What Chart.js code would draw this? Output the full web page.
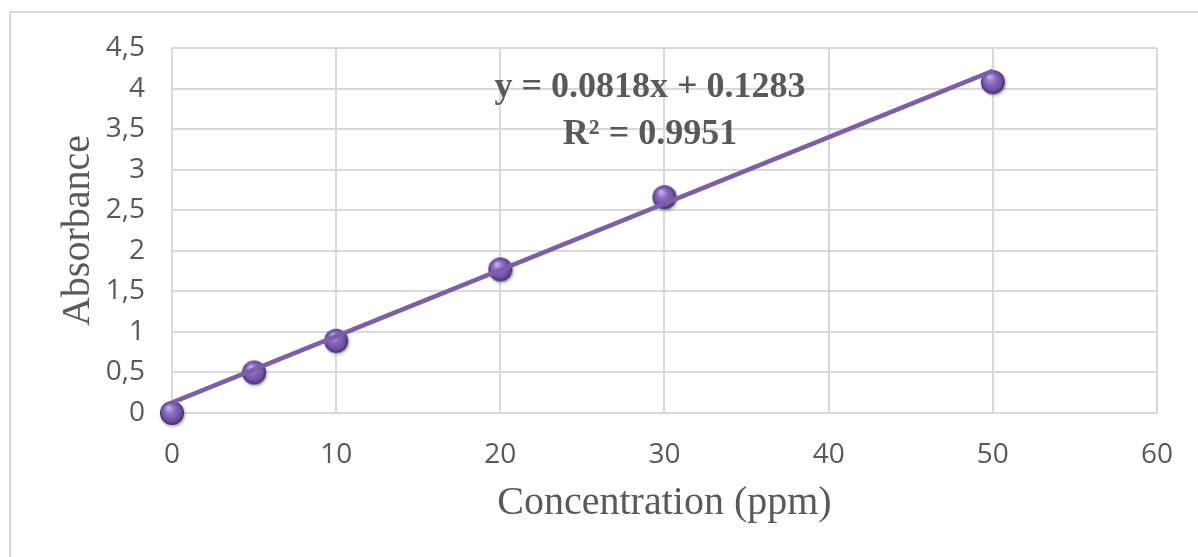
<!DOCTYPE html>
<html>
<head>
<meta charset="utf-8">
<script src="https://cdn.jsdelivr.net/npm/chart.js@4"></script>
<style>
  html, body { margin: 0; padding: 0; background: #fff; }
  #wrap { position: relative; width: 1198px; height: 557px; overflow: hidden; }
  #frame { position: absolute; left: 9px; top: 11px; width: 1300px; height: 700px; border: 2px solid #d9d9d9; box-sizing: border-box; }
  #cv { position: absolute; left: 0; top: 0; }
</style>
</head>
<body>
<div id="wrap">
  <div id="frame"></div>
  <canvas id="cv" width="1198" height="557"></canvas>
</div>
<script>
// measured points
const concentration = [0, 5, 10, 20, 30, 50];
const absorbance = [0.0, 0.5, 0.89, 1.77, 2.66, 4.08];
// linear trendline end points (from Excel: y = 0.0818x + 0.1283)
const trendX = [0, 50];
const trendY = [0.1283, 4.2183];
const equationLines = ['y = 0.0818x + 0.1283', 'R² = 0.9951'];

const textColor = '#595959';
const gridColor = '#d9d9d9';
const lineColor = '#7d5fa8';

// little shaded ball used as marker
function makeBall(r) {
    const c = document.createElement('canvas');
    const s = r * 2 + 8;
    c.width = s; c.height = s;
    const g = c.getContext('2d');
    const cx = s / 2, cy = s / 2;
    g.shadowColor = 'rgba(0,0,0,0.35)';
    g.shadowBlur = 3; g.shadowOffsetX = 1; g.shadowOffsetY = 1.5;
    const grad = g.createRadialGradient(cx - r * 0.3, cy - r * 0.45, r * 0.1, cx, cy, r);
    grad.addColorStop(0, '#bda9e4');
    grad.addColorStop(0.35, '#8c6dc4');
    grad.addColorStop(0.8, '#6b4d9f');
    grad.addColorStop(1, '#402c6a');
    g.fillStyle = grad;
    g.beginPath(); g.arc(cx, cy, r, 0, Math.PI * 2); g.fill();
    return c;
}
const ball = makeBall(12);

const equationPlugin = {
    id: 'equation',
    afterDatasetsDraw(chart) {
        const { ctx, chartArea } = chart;
        ctx.save();
        ctx.font = 'bold 36px "Liberation Serif", "Times New Roman", serif';
        ctx.fillStyle = textColor;
        ctx.textAlign = 'center';
        ctx.textBaseline = 'middle';
        const cx = chartArea.left + 478;
        ctx.fillText(equationLines[0], cx, chartArea.top + 40);
        ctx.fillText(equationLines[1], cx, chartArea.top + 87);
        ctx.restore();
    }
};

new Chart(document.getElementById('cv'), {
    type: 'scatter',
    data: {
        datasets: [
            {
                label: 'Trendline',
                type: 'line',
                data: trendX.map((x, i) => ({ x: x, y: trendY[i] })),
                borderColor: lineColor, borderWidth: 4.5,
                pointRadius: 0, fill: false, order: 1, clip: false
            },
            {
                label: 'Absorbance',
                data: concentration.map((x, i) => ({ x: x, y: absorbance[i] })),
                pointStyle: ball, pointRadius: 12, order: 2, clip: false
            }
        ]
    },
    options: {
        responsive: false, animation: false,
        layout: { padding: { top: 48, right: 40, left: 0, bottom: 0 } },
        plugins: { legend: { display: false }, tooltip: { enabled: false } },
        scales: {
            x: {
                type: 'linear', min: 0, max: 60,
                ticks: { stepSize: 10, color: textColor, padding: 25, font: { family: '"Open Sans"', size: 28 } },
                grid: { color: gridColor, lineWidth: 2, drawTicks: false },
                border: { color: gridColor, width: 2 },
                title: { display: true, text: 'Concentration (ppm)', color: textColor,
                    font: { family: '"Liberation Serif"', size: 40 }, padding: { top: 0, bottom: 30 } },
                afterFit(s) { s.height = 144; }
            },
            y: {
                min: 0, max: 4.5,
                ticks: { stepSize: 0.5, color: textColor, padding: 27, font: { family: '"Open Sans"', size: 28 },
                    callback: (v) => String(v).replace('.', ',') },
                grid: { color: gridColor, lineWidth: 2, drawTicks: false },
                border: { color: gridColor, width: 2 },
                title: { display: true, text: 'Absorbance', color: textColor,
                    font: { family: '"Liberation Serif"', size: 40 }, padding: { top: 54, bottom: 0 } },
                afterFit(s) { s.width = 172; }
            }
        }
    },
    plugins: [equationPlugin]
});
</script>
</body>
</html>
